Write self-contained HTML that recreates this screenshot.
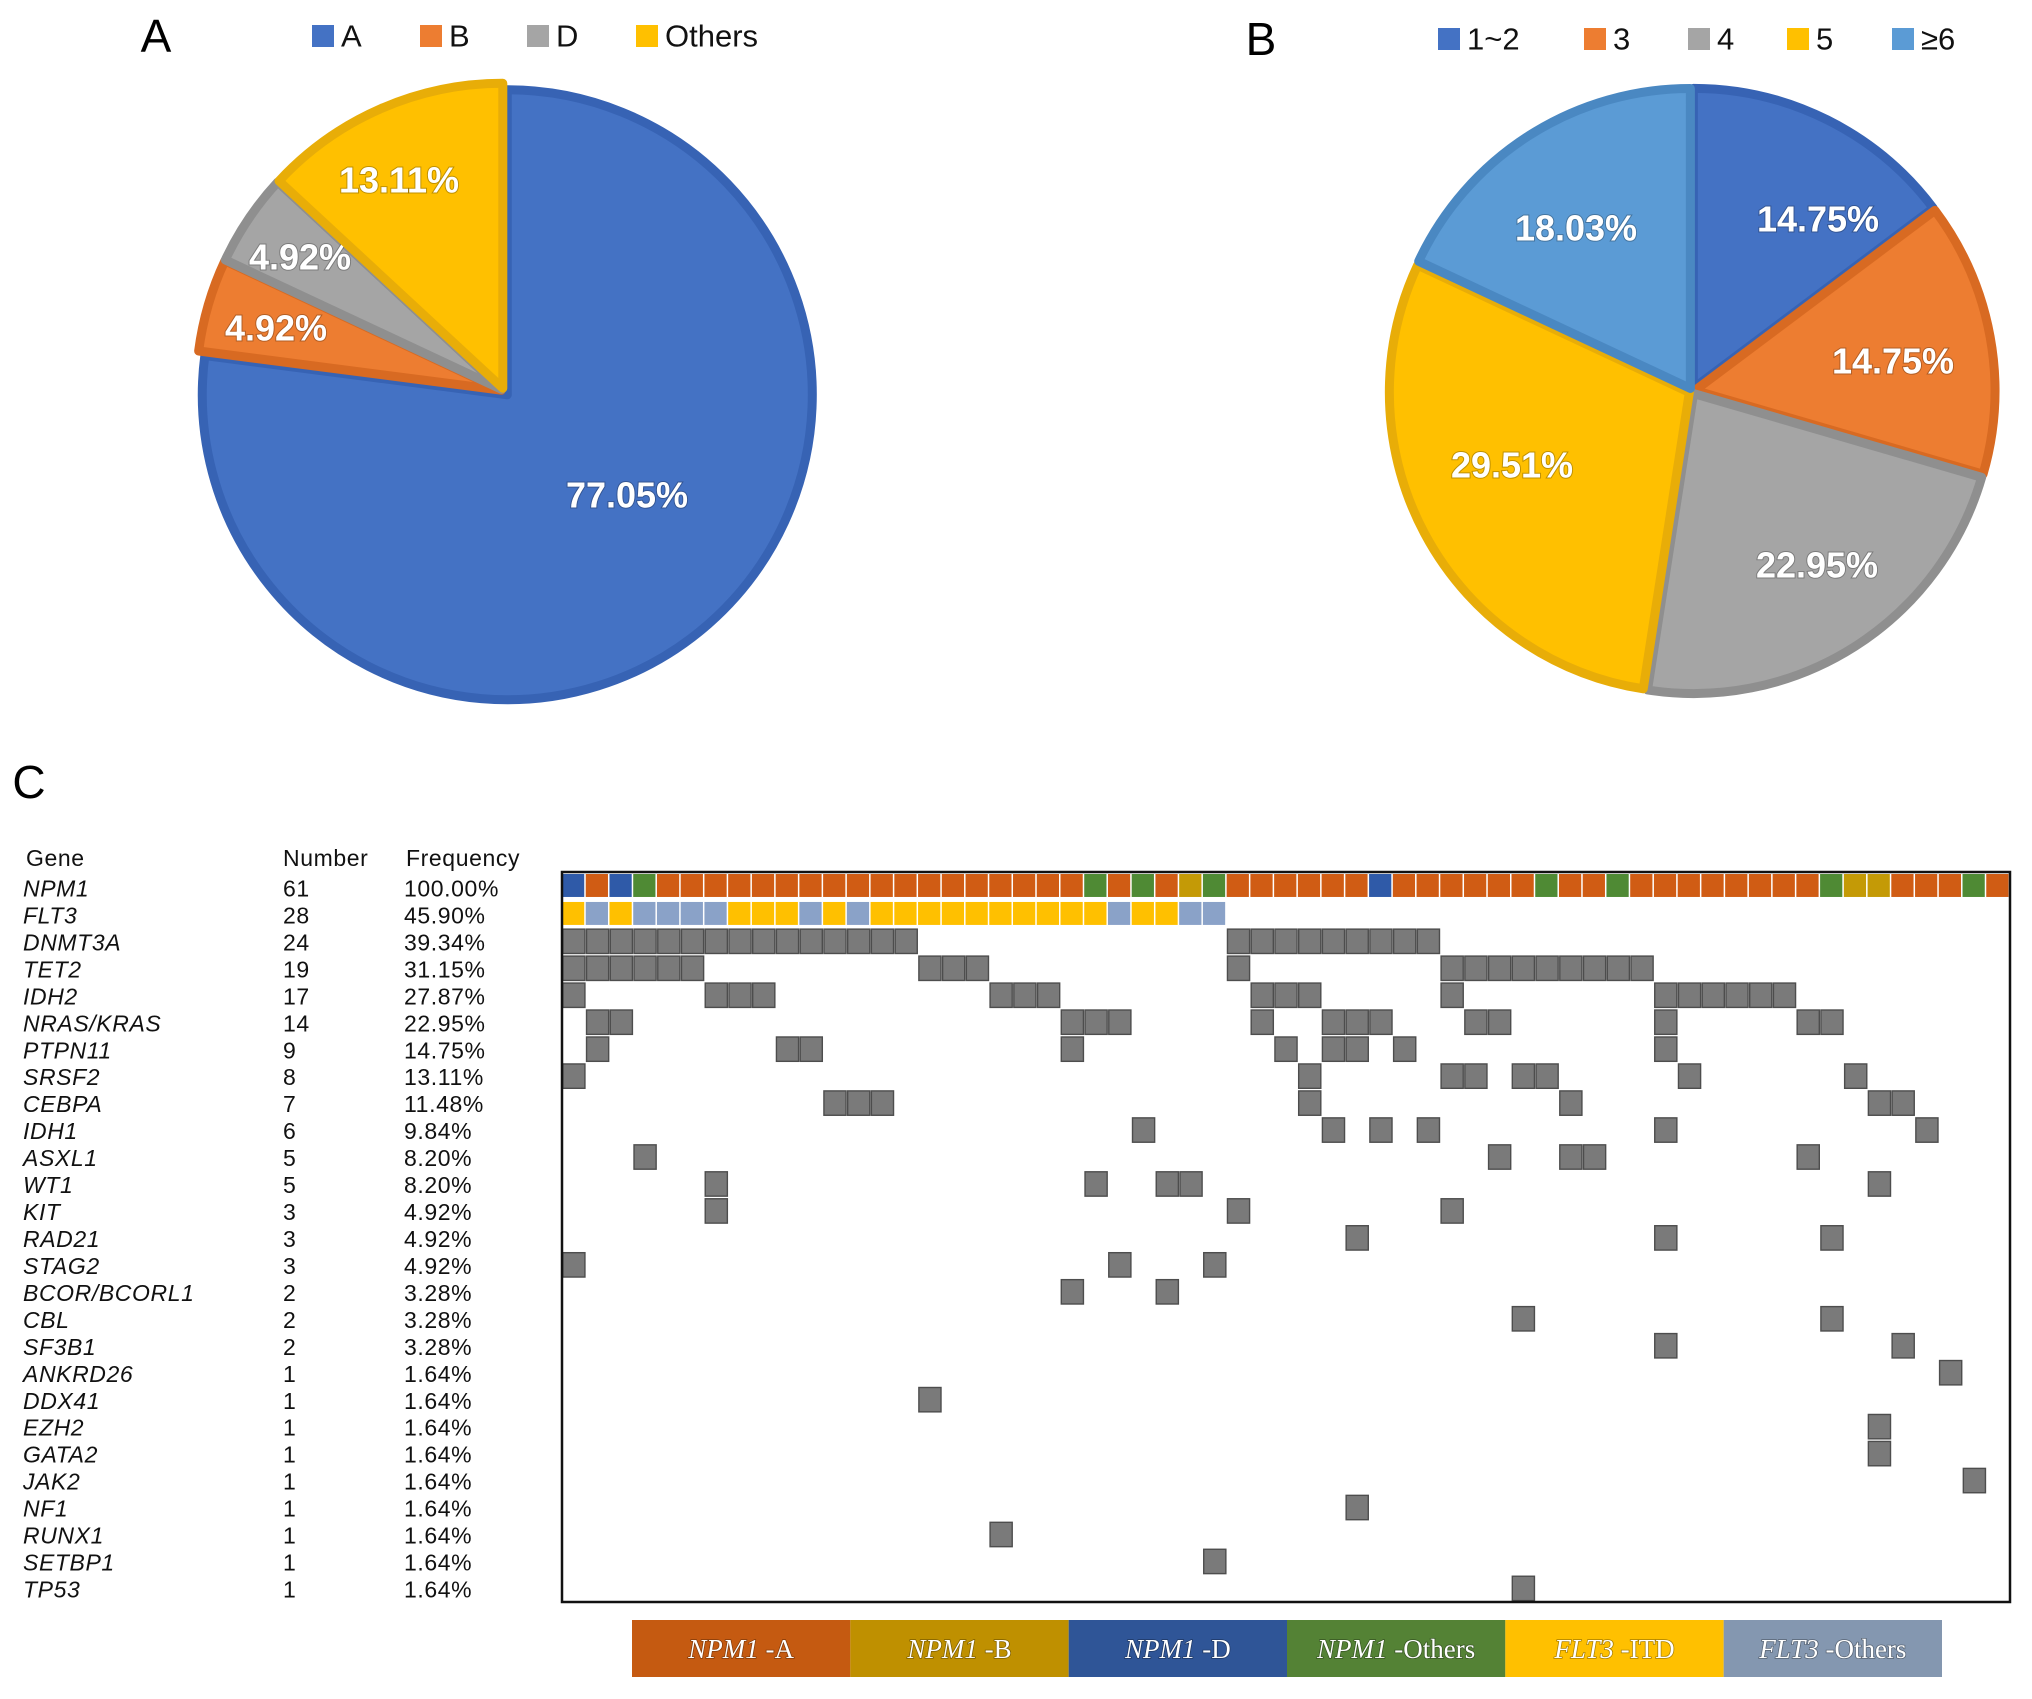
<!DOCTYPE html>
<html><head><meta charset="utf-8">
<style>
html,body{margin:0;padding:0;background:#fff;}
svg{display:block;}
.pl{font-family:"Liberation Sans",sans-serif;font-weight:bold;fill:#fff;font-size:36px;text-anchor:middle;dominant-baseline:central;}
.lg{font-family:"Liberation Sans",sans-serif;font-size:31px;fill:#111;dominant-baseline:central;}
.ttl{font-family:"Liberation Sans",sans-serif;font-size:46px;fill:#000;dominant-baseline:central;}
.tb{font-family:"Liberation Sans",sans-serif;font-size:23px;fill:#111;dominant-baseline:central;letter-spacing:0.6px;}
.lgc{font-family:"Liberation Serif",serif;font-size:27px;fill:#fff;text-anchor:middle;dominant-baseline:central;}
</style></head>
<body>
<svg id="fig" width="2032" height="1699" viewBox="0 0 2032 1699" xmlns="http://www.w3.org/2000/svg"></svg>
<script>
// ---- Pie A data ----
const pieALabels = ["A","B","D","Others"];
const pieAValues = [77.05, 4.92, 4.92, 13.11];
// ---- Pie B data ----
const pieBLabels = ["1~2","3","4","5","≥6"];
const pieBValues = [14.75, 14.75, 22.95, 29.51, 18.03];
// ---- Panel C data ----
const genes = ["NPM1","FLT3","DNMT3A","TET2","IDH2","NRAS/KRAS","PTPN11","SRSF2","CEBPA","IDH1","ASXL1","WT1","KIT","RAD21","STAG2","BCOR/BCORL1","CBL","SF3B1","ANKRD26","DDX41","EZH2","GATA2","JAK2","NF1","RUNX1","SETBP1","TP53"];
const geneNumbers = [61,28,24,19,17,14,9,8,7,6,5,5,3,3,3,2,2,2,1,1,1,1,1,1,1,1,1];
const geneFreqs = ["100.00%","45.90%","39.34%","31.15%","27.87%","22.95%","14.75%","13.11%","11.48%","9.84%","8.20%","8.20%","4.92%","4.92%","4.92%","3.28%","3.28%","3.28%","1.64%","1.64%","1.64%","1.64%","1.64%","1.64%","1.64%","1.64%","1.64%"];
const npm1Types = "DADOAAAAAAAAAAAAAAAAAAOAOABOAAAAAADAAAAAAOAAOAAAAAAAAOBBAAAOA".split("");
const flt3Types = "IOIOOOOIIIOIOIIIIIIIIIIOIIOO".split("");
const mutCols = [
 null,null,
 [0,1,2,3,4,5,6,7,8,9,10,11,12,13,14,28,29,30,31,32,33,34,35,36],
 [0,1,2,3,4,5,15,16,17,28,37,38,39,40,41,42,43,44,45],
 [0,6,7,8,18,19,20,29,30,31,37,46,47,48,49,50,51],
 [1,2,21,22,23,29,32,33,34,38,39,46,52,53],
 [1,9,10,21,30,32,33,35,46],
 [0,31,37,38,40,41,47,54],
 [11,12,13,31,42,55,56],
 [24,32,34,36,46,57],
 [3,39,42,43,52],
 [6,22,25,26,55],
 [6,28,37],
 [33,46,53],
 [0,23,27],
 [21,25],
 [40,53],
 [46,56],
 [58],[15],[55],[55],[59],[33],[18],[27],[40]
];
const legendCLabels = [["NPM1","-A"],["NPM1","-B"],["NPM1","-D"],["NPM1","-Others"],["FLT3","-ITD"],["FLT3","-Others"]];

const NS="http://www.w3.org/2000/svg";
const svg=document.getElementById('fig');
function mk(tag,attrs,parent){const e=document.createElementNS(NS,tag);for(const k in attrs)e.setAttribute(k,attrs[k]);(parent||svg).appendChild(e);return e;}

function drawPie(cx,cy,r,vals,labels,fills,strokes,labelPos,explode,name){
  const g=mk('g',{});
  
  
  const total=vals.reduce((a,b)=>a+b,0);
  let a0=0;
  vals.forEach((v,i)=>{
    const a1=a0+v/total*2*Math.PI;
    const mid=(a0+a1)/2;
    const ox=explode[i]*Math.sin(mid), oy=-explode[i]*Math.cos(mid);
    const x0=cx+ox+r*Math.sin(a0), y0=cy+oy-r*Math.cos(a0);
    const x1=cx+ox+r*Math.sin(a1), y1=cy+oy-r*Math.cos(a1);
    const large=(a1-a0)>Math.PI?1:0;
    const p=mk('path',{d:`M${cx+ox},${cy+oy} L${x0},${y0} A${r},${r} 0 ${large} 1 ${x1},${y1} Z`,fill:fills[i],stroke:strokes[i],'stroke-width':9,'stroke-linejoin':'round'},g);
    
    
    const t=mk('text',{x:labelPos[i][0],y:labelPos[i][1],class:'pl',style:'paint-order:stroke;stroke:rgba(0,0,0,0.25);stroke-width:2px'},g);
    t.textContent=vals[i].toFixed(2)+'%';
    
    
    a0=a1;
  });
}
// Pie A
drawPie(504,391,305,pieAValues,pieALabels,["#4472c4","#ed7d31","#a5a5a5","#ffc000"],["#3763b4","#d86a22","#8f8f8f","#e8ad08"],
  [[627,495],[276,328],[300,257],[399,180]],[5,3,3,3],'pie-a');
// Pie B
drawPie(1692,391,300,pieBValues,pieBLabels,["#4472c4","#ed7d31","#a5a5a5","#ffc000","#5b9bd5"],["#3763b4","#d86a22","#8f8f8f","#e8ad08","#4a88c2"],
  [[1818,219],[1893,361],[1817,565],[1512,465],[1576,228]],[3,3,3,3,3],'pie-b');

// titles
[["A",156,36],["B",1261,39],["C",29,782]].forEach(([s,x,y])=>{
  const t=mk('text',{x:x,y:y,class:'ttl','text-anchor':'middle'});t.textContent=s;
  
  
});
// legends A and B
function legend(items,colors,xsq,y,name){
  items.forEach((s,i)=>{
    const r=mk('rect',{x:xsq[i],y:y-11,width:22,height:22,fill:colors[i]});
    
    
    const t=mk('text',{x:xsq[i]+29,y:y,class:'lg'});t.textContent=s;
    
    
  });
}
legend(pieALabels,["#4472c4","#ed7d31","#a5a5a5","#ffc000"],[312,420,527,636],36,'legend-a');
legend(pieBLabels,["#4472c4","#ed7d31","#a5a5a5","#ffc000","#5b9bd5"],[1438,1584,1688,1787,1892],39,'legend-b');

// Panel C table
const gx0=562,gx1=2010,gy0=874,gy1=1602;
const cw=(gx1-gx0)/61, rh=(gy1-gy0)/genes.length;
[["Gene",26],["Number",283],["Frequency",406]].forEach(([s,x])=>{
  const t=mk('text',{x:x,y:858,class:'tb'});t.textContent=s;
  
  
});
genes.forEach((gname,i)=>{
  const y=gy0+rh*(i+0.5)+1;
  const t1=mk('text',{x:23,y:y,class:'tb','font-style':'italic'});t1.textContent=gname;
  
  
  const t2=mk('text',{x:283,y:y,class:'tb'});t2.textContent=geneNumbers[i];
  
  
  const t3=mk('text',{x:404,y:y,class:'tb'});t3.textContent=geneFreqs[i];
  
  
});
// grid
const typeColor={A:"#d05c14",B:"#c49a06",D:"#2f5aa8",O:"#4f8a34",I:"#ffc000",F:"#8aa2c8"};
const gridG=mk('g',{});


npm1Types.forEach((tp,c)=>{
  const r=mk('rect',{x:gx0+c*cw,y:gy0,width:cw-1.5,height:rh-4,fill:typeColor[tp]},gridG);
  
  
});
flt3Types.forEach((tp,c)=>{
  const r=mk('rect',{x:gx0+c*cw,y:gy0+rh+1,width:cw-1.5,height:rh-4,fill:tp==='I'?typeColor.I:typeColor.F},gridG);
  
  
});
mutCols.forEach((cols,ri)=>{
  if(!cols)return;
  cols.forEach(c=>{
    const r=mk('rect',{x:gx0+c*cw+0.8,y:gy0+ri*rh+1.2,width:cw-1.6,height:rh-2.6,fill:"#7a7a7a",stroke:"#4d4d4d","stroke-width":1.4},gridG);
    
    
  });
});
const box=mk('rect',{x:gx0,y:gy0-2,width:gx1-gx0,height:gy1-gy0+2,fill:'none',stroke:'#111','stroke-width':2.5});



// bottom legend
const lcColors=["#c55a11","#bf9000","#2f5597","#548235","#ffc000","#8497b0"];
const lx0=632, lw=(1942-632)/6;
legendCLabels.forEach((lab,i)=>{
  const r=mk('rect',{x:lx0+i*lw,y:1620,width:lw,height:57,fill:lcColors[i]});
  
  
  const t=mk('text',{x:lx0+i*lw+lw/2,y:1649,class:'lgc',style:'paint-order:stroke;stroke:rgba(0,0,0,0.35);stroke-width:1.5px'});
  const s1=mk('tspan',{'font-style':'italic'},t);s1.textContent=lab[0];
  const s2=mk('tspan',{},t);s2.textContent=' '+lab[1];
  
  
});
</script>
</body></html>
